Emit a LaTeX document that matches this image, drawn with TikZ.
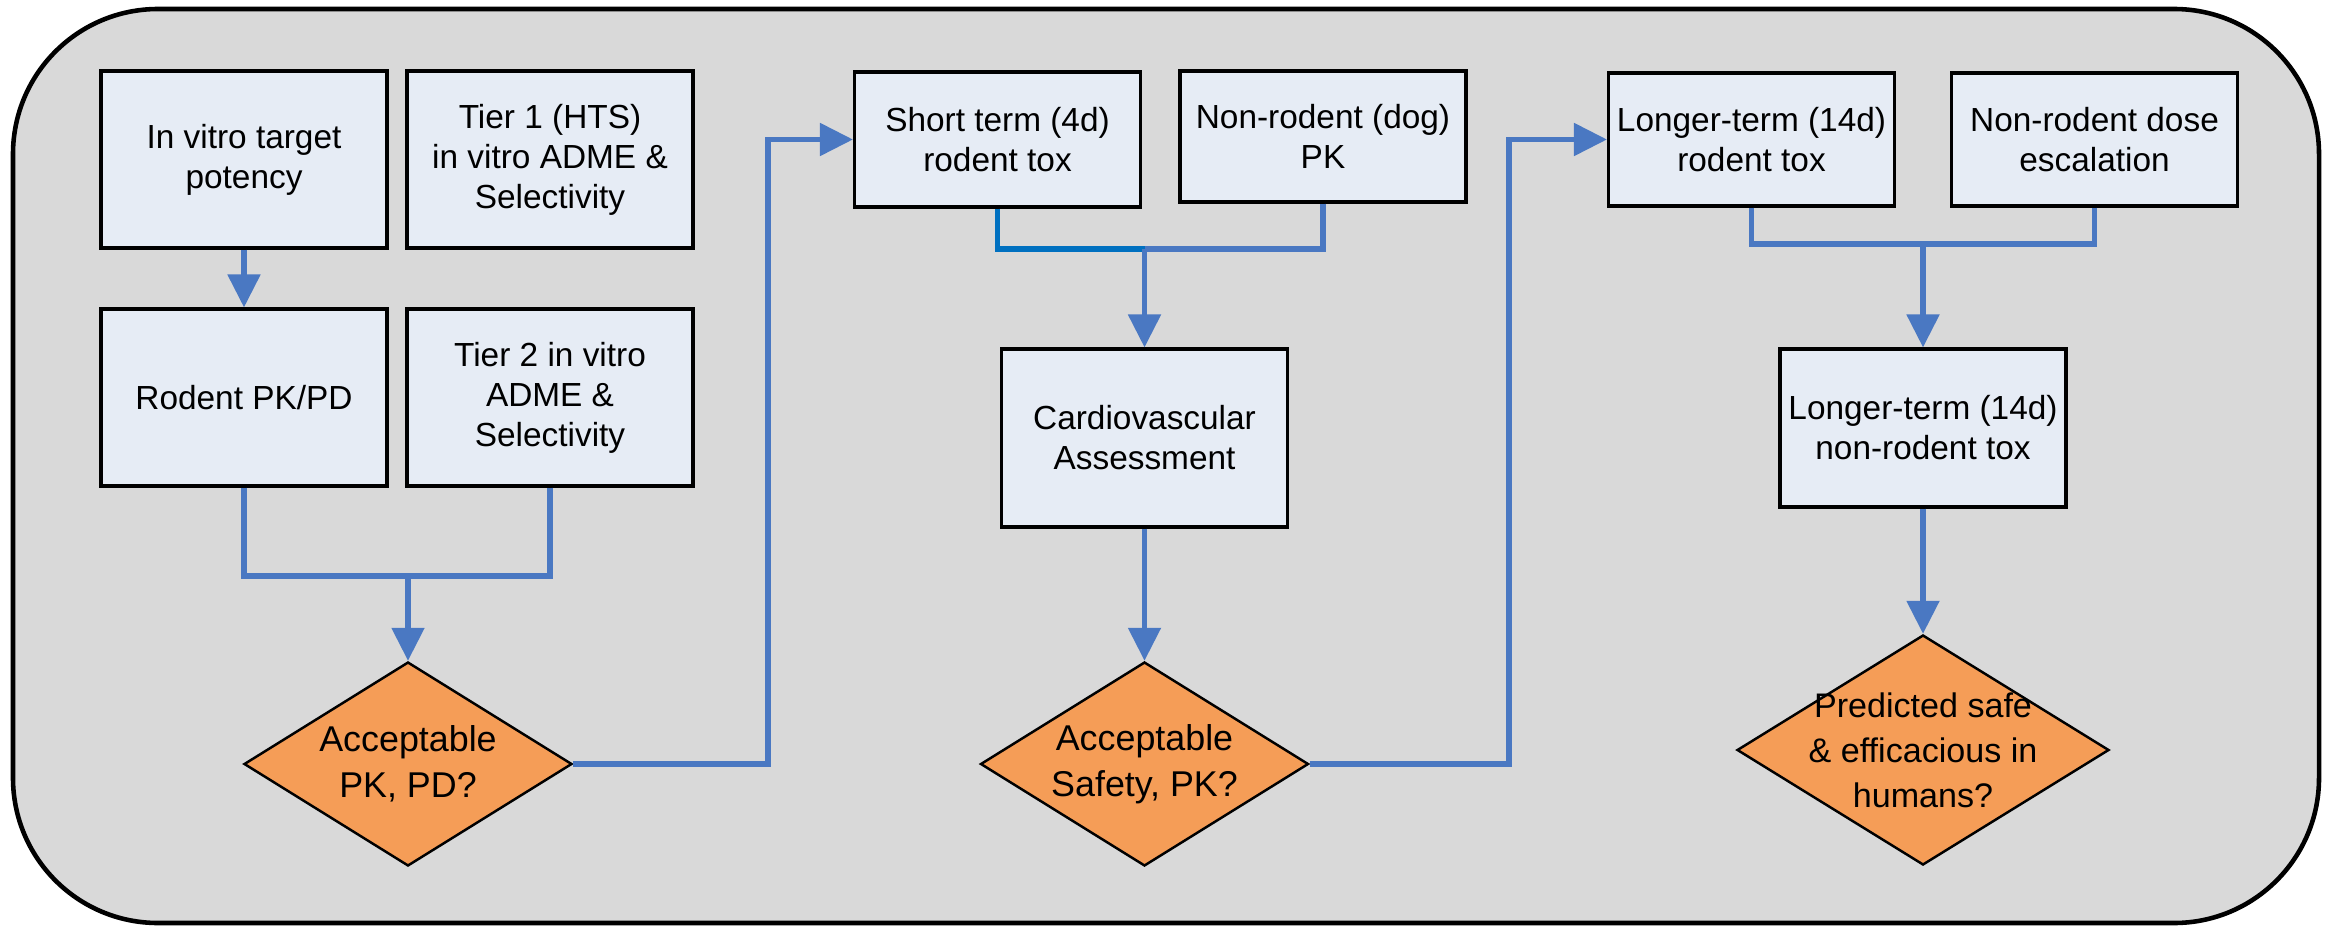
\documentclass[tikz,border=0pt]{standalone}
\usepackage{fontspec}
\setmainfont{Liberation Sans}
\usepackage{xcolor}
\usepackage{tikz}
\usetikzlibrary{arrows.meta, shapes.geometric}
\definecolor{panelgray}{HTML}{D9D9D9}
\definecolor{boxfill}{HTML}{E6ECF5}
\definecolor{decisionorange}{HTML}{F59D57}
\definecolor{flowblue}{HTML}{4A78C2}
\definecolor{darkflow}{HTML}{0070C0}

\tikzset{
  stagebox/.style={draw=black, line width=0.9pt, fill=boxfill, align=center, inner sep=2pt,
    minimum width=2.86cm, minimum height=1.77cm, font=\fontsize{9.5}{11.4}\selectfont},
  decision/.style={diamond, draw=black, line width=0.7pt, fill=decisionorange, inner sep=0pt,
    minimum width=3.28cm, minimum height=2.04cm},
  decisiontext/.style={align=center, inner sep=0pt, font=\fontsize{10.2}{13}\selectfont},
  flow/.style={flowblue, line width=1.5pt},
  flowarrow/.style={flow, -{Triangle[length=3.3mm, width=3.2mm]}}
}

\begin{document}
\begin{tikzpicture}
  \useasboundingbox (0,0) rectangle (23.33,9.26);
  \draw[line width=1.3pt, fill=panelgray, rounded corners=1.45cm] (0.13,0.03) rectangle (23.19,9.17);

  % in vitro and rodent screening
  \node[stagebox] (potency) at (2.44,7.665) {In vitro target\\potency};
  \node[stagebox] (tierone) at (5.50,7.665) {Tier 1 (HTS)\\in vitro ADME \&\\Selectivity};
  \node[stagebox] (rodentpk) at (2.44,5.285) {Rodent PK/PD};
  \node[stagebox] (tiertwo) at (5.50,5.285) {Tier 2 in vitro\\ADME \&\\Selectivity};
  \node[decision, label={[decisiontext]center:{Acceptable\\PK, PD?}}] (pkcheck) at (4.08,1.62) {};

  \draw[flowarrow] (potency) -- (rodentpk);
  \coordinate (joinone) at (4.08,3.50);
  \draw[flow] (rodentpk.south) |- (joinone);
  \draw[flow] (tiertwo.south) |- (joinone);
  \draw[flowarrow] (joinone) -- (pkcheck.north);

  % short term studies
  \node[stagebox, minimum height=1.35cm] (shorttox) at (9.975,7.865) {Short term (4d)\\rodent tox};
  \node[stagebox, minimum height=1.31cm] (dogpk) at (13.23,7.895) {Non-rodent (dog)\\PK};
  \node[stagebox, minimum height=1.78cm] (cardio) at (11.445,4.88) {Cardiovascular\\Assessment};
  \node[decision, label={[decisiontext]center:{Acceptable\\Safety, PK?}}] (safetycheck) at (11.445,1.62) {};

  \coordinate (bendone) at (7.68,7.865);
  \draw[flowarrow] (pkcheck.east) -| (bendone) -- (shorttox.west);
  \coordinate (jointwo) at (11.445,6.77);
  \draw[darkflow, line width=1.5pt] (shorttox.south) |- (jointwo);
  \draw[flow] (dogpk.south) |- (jointwo);
  \draw[flowarrow] (jointwo) -- (cardio.north);
  \draw[flowarrow] (cardio) -- (safetycheck);

  % longer term studies
  \node[stagebox, minimum height=1.33cm] (longtox) at (17.515,7.865) {Longer-term (14d)\\rodent tox};
  \node[stagebox, minimum height=1.33cm] (doseesc) at (20.945,7.865) {Non-rodent dose\\escalation};
  \node[stagebox, minimum height=1.58cm] (nonrodenttox) at (19.23,4.98) {Longer-term (14d)\\non-rodent tox};
  \node[decision, minimum width=3.72cm, minimum height=2.30cm,
        label={[decisiontext, font=\fontsize{9.7}{12.8}\selectfont]center:{Predicted safe\\\& efficacious in\\humans?}}] (humancheck) at (19.23,1.76) {};

  \coordinate (bendtwo) at (15.09,7.865);
  \draw[flowarrow] (safetycheck.east) -| (bendtwo) -- (longtox.west);
  \coordinate (jointhree) at (19.23,6.82);
  \draw[flow] (longtox.south) |- (jointhree);
  \draw[flow] (doseesc.south) |- (jointhree);
  \draw[flowarrow] (jointhree) -- (nonrodenttox.north);
  \draw[flowarrow] (nonrodenttox) -- (humancheck);
\end{tikzpicture}
\end{document}
